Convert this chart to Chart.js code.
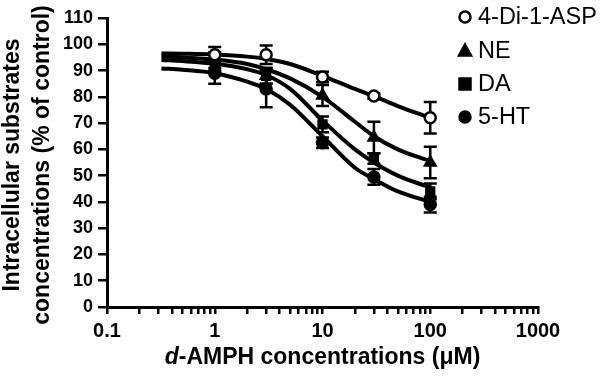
<!DOCTYPE html>
<html>
<head>
<meta charset="utf-8">
<script src="https://cdn.jsdelivr.net/npm/chart.js@4/dist/chart.umd.min.js"></script>
<style>
  html, body { margin: 0; padding: 0; background: #fff; }
  #wrap { width: 600px; height: 379px; }
</style>
</head>
<body>
<div id="wrap"><canvas id="grafico" width="600" height="379"></canvas></div>
<script>
const doses = [1, 3, 10, 30, 100];
const aspMean = [96, 96, 87.5, 80.3, 72];
const aspErr = [3, 3.5, 2, 1, 6];
const neMean = [94, 88, 80.5, 64.5, 55];
const neErr = [3, 3, 4, 6, 6];
const daMean = [93, 88, 69.5, 56.5, 44];
const daErr = [3, 3, 3, 2, 3];
const htMean = [89, 83, 62.5, 49.5, 39];
const htErr = [4, 7, 2, 3, 3];

// fitted curves
const fitDoses = [0.32, 0.5, 1, 2, 3, 5, 10, 20, 30, 50, 100];
const aspFit = [96.5, 96.4, 96.1, 95.3, 94.4, 92.5, 88, 83, 80.3, 76.5, 72];
const neFit = [95.3, 95, 94.2, 92.5, 90.5, 87, 80, 70.5, 65, 60, 55.5];
const daFit = [94, 93.6, 92.6, 90.5, 88.3, 83, 71, 60, 55, 50, 45.5];
const htFit = [90.8, 90.3, 89, 85.8, 83, 77, 65, 53, 48.7, 44, 40];

const seriesNames = ['4-Di-1-ASP', 'NE', 'DA', '5-HT'];
const xTickValues = [0.1, 0.2, 0.3, 0.4, 0.5, 0.6, 0.7, 0.8, 0.9,
                     1, 2, 3, 4, 5, 6, 7, 8, 9,
                     10, 20, 30, 40, 50, 60, 70, 80, 90,
                     100, 200, 300, 400, 500, 600, 700, 800, 900, 1000];
const xTickLabels = [0.1, 1, 10, 100, 1000];

const pares = (xs, ys) => xs.map((x, i) => ({ x: x, y: ys[i] }));

const estilos = [
  { pointStyle: 'circle', bg: '#fff', radius: 5.5 },
  { pointStyle: 'triangle', bg: '#000', radius: 6 },
  { pointStyle: 'rect', bg: '#000', radius: 5.5 },
  { pointStyle: 'circle', bg: '#000', radius: 5.5 }
];
const medias = [aspMean, neMean, daMean, htMean];
const erros = [aspErr, neErr, daErr, htErr];
const ajustes = [aspFit, neFit, daFit, htFit];

const datasets = [];
medias.forEach((m, i) => {
  datasets.push({
    label: seriesNames[i],
    data: pares(doses, m),
    errs: erros[i],
    showLine: false,
    pointStyle: estilos[i].pointStyle,
    pointRadius: estilos[i].radius,
    pointBackgroundColor: estilos[i].bg,
    pointBorderColor: '#000',
    pointBorderWidth: 2.5,
    order: 1
  });
});
ajustes.forEach((f, i) => {
  datasets.push({
    label: seriesNames[i] + ' fit',
    data: pares(fitDoses, f),
    showLine: true,
    borderColor: '#000',
    borderWidth: 4,
    pointRadius: 0,
    cubicInterpolationMode: 'monotone',
    order: 2
  });
});

// error bars drawn under the markers
const barrasErro = {
  id: 'barrasErro',
  beforeDatasetsDraw(chart) {
    const { ctx, scales: { x, y } } = chart;
    ctx.save();
    ctx.strokeStyle = '#000';
    ctx.lineWidth = 2.5;
    chart.data.datasets.forEach(ds => {
      if (!ds.errs) return;
      ds.data.forEach((p, i) => {
        const e = ds.errs[i];
        const px = x.getPixelForValue(p.x);
        const top = y.getPixelForValue(p.y + e);
        const bot = y.getPixelForValue(p.y - e);
        ctx.beginPath();
        ctx.moveTo(px, top); ctx.lineTo(px, bot);
        ctx.moveTo(px - 6.5, top); ctx.lineTo(px + 6.5, top);
        ctx.moveTo(px - 6.5, bot); ctx.lineTo(px + 6.5, bot);
        ctx.stroke();
      });
    });
    ctx.restore();
  }
};

function marcador(ctx, estilo, cx, cy) {
  ctx.beginPath();
  if (estilo.pointStyle === 'circle') {
    ctx.arc(cx, cy, 5.5, 0, Math.PI * 2);
  } else if (estilo.pointStyle === 'triangle') {
    ctx.moveTo(cx, cy - 6.5); ctx.lineTo(cx + 6, cy + 4.5); ctx.lineTo(cx - 6, cy + 4.5); ctx.closePath();
  } else {
    ctx.rect(cx - 5.5, cy - 5.5, 11, 11);
  }
  ctx.fillStyle = estilo.bg;
  ctx.fill();
  ctx.lineWidth = 2.5;
  ctx.strokeStyle = '#000';
  ctx.stroke();
}

// titles (italic d) and legend
const textos = {
  id: 'textos',
  afterDraw(chart) {
    const { ctx, chartArea } = chart;
    ctx.save();
    ctx.fillStyle = '#000';

    // x title
    const fItal = 'italic bold 23px "Liberation Sans", Arial, sans-serif';
    const fBold = 'bold 23px "Liberation Sans", Arial, sans-serif';
    const resto = '-AMPH concentrations (\u03bcM)';
    ctx.font = fItal; const wD = ctx.measureText('d').width;
    ctx.font = fBold; const wR = ctx.measureText(resto).width;
    let x0 = (chartArea.left + chartArea.right) / 2 - (wD + wR) / 2;
    ctx.textBaseline = 'middle';
    ctx.textAlign = 'left';
    ctx.font = fItal; ctx.fillText('d', x0, 358);
    ctx.font = fBold; ctx.fillText(resto, x0 + wD, 358);

    // y title, two lines
    ctx.textAlign = 'center';
    ctx.textBaseline = 'alphabetic';
    [['Intracellular substrates', 19], ['concentrations (% of control)', 49]].forEach(([t, bx]) => {
      ctx.save();
      ctx.translate(bx, 165);
      ctx.rotate(-Math.PI / 2);
      ctx.font = fBold;
      ctx.fillText(t, 0, 0);
      ctx.restore();
    });

    // legend
    const legY = [17, 51, 84, 117];
    ctx.textAlign = 'left';
    ctx.textBaseline = 'middle';
    ctx.font = '23.5px "Liberation Sans", Arial, sans-serif';
    seriesNames.forEach((n, i) => {
      marcador(ctx, estilos[i], 465, legY[i]);
      ctx.fillStyle = '#000';
      ctx.fillText(n, 478, legY[i] + 1);
    });
    ctx.restore();
  }
};

const ctx = document.getElementById('grafico').getContext('2d');
const grafico = new Chart(ctx, {
  type: 'scatter',
  data: { datasets: datasets },
  options: {
    responsive: false,
    animation: false,
    layout: { padding: { left: 0, right: 62, top: 18, bottom: 0 } },
    plugins: { legend: { display: false }, tooltip: { enabled: false } },
    scales: {
      x: {
        type: 'logarithmic',
        min: 0.1,
        max: 1000,
        afterBuildTicks(scale) {
          scale.ticks = xTickValues.map(v => ({ value: v }));
        },
        afterFit(scale) { scale.height = 72; },
        border: { display: true, color: '#000', width: 3 },
        grid: { drawOnChartArea: false, drawTicks: true, tickLength: 7, color: '#000', lineWidth: 2.5 },
        ticks: {
          autoSkip: false,
          maxRotation: 0,
          padding: 5,
          color: '#000',
          font: { family: '"Liberation Sans", Arial, sans-serif', size: 20, weight: 'bold' },
          callback: (v) => xTickLabels.includes(v) ? String(v) : ''
        }
      },
      y: {
        min: 0,
        max: 110,
        afterFit(scale) { scale.width = 107; },
        border: { display: true, color: '#000', width: 3 },
        grid: { drawOnChartArea: false, drawTicks: true, tickLength: 9, color: '#000', lineWidth: 2.5 },
        ticks: {
          stepSize: 10,
          padding: 5,
          color: '#000',
          font: { family: '"Liberation Sans", Arial, sans-serif', size: 18, weight: 'bold' }
        }
      }
    }
  },
  plugins: [barrasErro, textos]
});
</script>
</body>
</html>
